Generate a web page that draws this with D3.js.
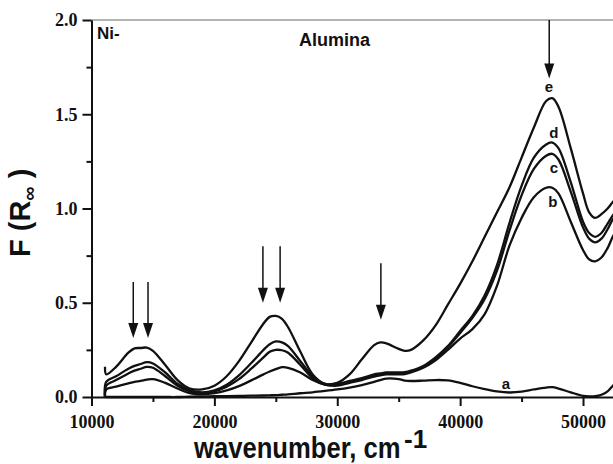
<!DOCTYPE html>
<html>
<head>
<meta charset="utf-8">
<script src="https://cdn.jsdelivr.net/npm/d3@7"></script>
<style>
body { margin: 0; background: #fff; }
svg { display: block; }
.tick text { font-family: "Liberation Serif", "Times New Roman", serif; font-weight: bold; font-size: 18px; fill: #111; }
.axis path, .axis line { stroke: #111; stroke-width: 2px; }
.lbl { font-family: "Liberation Sans", Arial, sans-serif; font-weight: bold; fill: #111; }
</style>
</head>
<body>
<div id="chart"></div>
<script>
const svgWidth = 613, svgHeight = 464;

// wavenumber grid (cm-1) shared by all spectra
const waveNumbers = [11100, 11200, 12000, 13000, 13500, 14000, 14500, 15000, 16000, 17000,
  18000, 19000, 20000, 21000, 22000, 23000, 24000, 24500, 25000, 25500,
  26000, 27000, 28000, 29000, 30000, 31000, 32000, 33000, 33500, 34000,
  35000, 35500, 36000, 37000, 38000, 39000, 40000, 41000, 42000, 43000,
  44000, 45000, 46000, 47000, 47500, 48000, 49000, 50000, 50500, 51000,
  51500, 52000, 52500, 53000];

const seriesA = [0, 0, 0, 0, 0, 0, 0, 0, 0, 0,
  0.002, 0.003, 0.004, 0.005, 0.006, 0.007, 0.008, 0.009, 0.01, 0.012,
  0.014, 0.02, 0.025, 0.032, 0.04, 0.05, 0.063, 0.08, 0.09, 0.098,
  0.095, 0.087, 0.085, 0.087, 0.09, 0.088, 0.075, 0.057, 0.042, 0.03,
  0.024, 0.028, 0.04, 0.05, 0.052, 0.045, 0.025, 0.006, 0.003, 0.004,
  0.012, 0.03, 0.065, 0.1];

const seriesB = [0, 0.04, 0.055, 0.072, 0.08, 0.085, 0.092, 0.095, 0.075, 0.045,
  0.02, 0.015, 0.02, 0.035, 0.058, 0.088, 0.12, 0.135, 0.148, 0.158,
  0.155, 0.13, 0.09, 0.065, 0.06, 0.075, 0.09, 0.108, 0.115, 0.12,
  0.12, 0.122, 0.13, 0.155, 0.195, 0.25, 0.31, 0.36, 0.44, 0.59,
  0.80, 0.95, 1.06, 1.11, 1.11, 1.08, 0.93, 0.78, 0.73, 0.72,
  0.74, 0.79, 0.86, 0.9];

const seriesC = [0, 0.06, 0.09, 0.125, 0.14, 0.15, 0.16, 0.155, 0.11, 0.06,
  0.03, 0.02, 0.03, 0.055, 0.095, 0.15, 0.21, 0.24, 0.25, 0.248,
  0.235, 0.17, 0.10, 0.065, 0.065, 0.08, 0.095, 0.115, 0.12, 0.125,
  0.125, 0.127, 0.135, 0.16, 0.205, 0.265, 0.34, 0.42, 0.52, 0.67,
  0.88, 1.07, 1.21, 1.28, 1.29, 1.26, 1.09, 0.90, 0.84, 0.82,
  0.84, 0.89, 0.95, 0.98];

const seriesD = [0, 0.08, 0.11, 0.15, 0.165, 0.175, 0.185, 0.178, 0.13, 0.07,
  0.035, 0.025, 0.035, 0.065, 0.115, 0.18, 0.25, 0.28, 0.295, 0.29,
  0.27, 0.19, 0.11, 0.07, 0.07, 0.085, 0.10, 0.12, 0.125, 0.13,
  0.13, 0.132, 0.14, 0.165, 0.21, 0.27, 0.35, 0.43, 0.54, 0.70,
  0.92, 1.12, 1.27, 1.34, 1.35, 1.32, 1.14, 0.93, 0.87, 0.85,
  0.87, 0.92, 0.97, 1.0];

const seriesE = [0.16, 0.12, 0.16, 0.235, 0.258, 0.26, 0.262, 0.245, 0.17, 0.09,
  0.045, 0.04, 0.06, 0.11, 0.19, 0.29, 0.39, 0.425, 0.43, 0.415,
  0.37, 0.24, 0.12, 0.07, 0.075, 0.12, 0.20, 0.275, 0.29, 0.285,
  0.255, 0.245, 0.25, 0.30, 0.38, 0.49, 0.60, 0.72, 0.85, 0.98,
  1.11, 1.27, 1.43, 1.57, 1.585, 1.54, 1.32, 1.08, 0.98, 0.95,
  0.97, 1.0, 1.04, 1.07];

const allSeries = [seriesA, seriesB, seriesC, seriesD, seriesE];

const xMajorTicks = [10000, 20000, 30000, 40000, 50000];
const xMinorTicks = [15000, 25000, 35000, 45000];
const yMajorTicks = [0, 0.5, 1.0, 1.5, 2.0];
const yMinorTicks = [0.25, 0.75, 1.25, 1.75];

// arrows: [wavenumber, top F, tip F]
const arrows = [
  [13400, 0.61, 0.313],
  [14600, 0.61, 0.313],
  [23950, 0.80, 0.50],
  [25350, 0.80, 0.50],
  [33550, 0.71, 0.41],
  [47250, 2.0, 1.69]
];

// curve letters: [text, wavenumber, F]
const curveLabels = [
  ["a", 43730, 0.069],
  ["b", 47550, 1.035],
  ["c", 47630, 1.215],
  ["d", 47630, 1.40],
  ["e", 47220, 1.645]
];

const svg = d3.select("#chart")
  .append("svg")
  .attr("width", svgWidth)
  .attr("height", svgHeight);

const x = d3.scaleLinear().domain([10000, 52440]).range([91.5, 613]);
const y = d3.scaleLinear().domain([0, 2]).range([397, 20]);

// top frame line
svg.append("line")
  .attr("x1", x(10000)).attr("x2", svgWidth)
  .attr("y1", y(2)).attr("y2", y(2))
  .attr("stroke", "#9a9a9a")
  .attr("stroke-width", 1.5);

// x axis
svg.append("g")
  .attr("class", "axis")
  .attr("transform", `translate(0, ${y(0)})`)
  .call(d3.axisBottom(x).tickValues(xMajorTicks).tickSize(9).tickSizeOuter(0)
    .tickPadding(9).tickFormat(d3.format("d")));

svg.append("g")
  .attr("class", "axis")
  .attr("transform", `translate(0, ${y(0)})`)
  .call(d3.axisBottom(x).tickValues(xMinorTicks).tickSize(5).tickSizeOuter(0).tickFormat(""))
  .select(".domain").remove();

// y axis
svg.append("g")
  .attr("class", "axis")
  .attr("transform", `translate(${x(10000)}, 0)`)
  .call(d3.axisLeft(y).tickValues(yMajorTicks).tickSize(9).tickSizeOuter(0)
    .tickPadding(5).tickFormat(d3.format(".1f")));

svg.append("g")
  .attr("class", "axis")
  .attr("transform", `translate(${x(10000)}, 0)`)
  .call(d3.axisLeft(y).tickValues(yMinorTicks).tickSize(5).tickSizeOuter(0).tickFormat(""))
  .select(".domain").remove();

// spectra
const line = d3.line()
  .x((d, i) => x(waveNumbers[i]))
  .y(d => y(d))
  .curve(d3.curveCatmullRom.alpha(0.5));

svg.append("g")
  .selectAll("path")
  .data(allSeries)
  .enter()
  .append("path")
  .attr("d", line)
  .attr("fill", "none")
  .attr("stroke", "#111")
  .attr("stroke-width", 2.3)
  .attr("stroke-linejoin", "round");

// arrows
const arrowG = svg.append("g");
arrows.forEach(function(a) {
  const ax = x(a[0]), top = y(a[1]), tip = y(a[2]);
  arrowG.append("line")
    .attr("x1", ax).attr("x2", ax)
    .attr("y1", top).attr("y2", tip - 10)
    .attr("stroke", "#111")
    .attr("stroke-width", 1.5);
  arrowG.append("path")
    .attr("d", `M${ax - 5},${tip - 15} L${ax + 5},${tip - 15} L${ax},${tip} Z`)
    .attr("fill", "#111");
});

// curve letters
svg.append("g")
  .selectAll("text")
  .data(curveLabels)
  .enter()
  .append("text")
  .attr("class", "lbl")
  .attr("x", d => x(d[1]))
  .attr("y", d => y(d[2]))
  .attr("dy", "0.35em")
  .attr("text-anchor", "middle")
  .style("font-size", "15px")
  .text(d => d[0]);

// titles inside plot
svg.append("text")
  .attr("class", "lbl")
  .attr("x", 97).attr("y", 39)
  .style("font-size", "17px")
  .text("Ni-");

svg.append("text")
  .attr("class", "lbl")
  .attr("x", 299).attr("y", 46)
  .style("font-size", "18px")
  .text("Alumina");

// x axis title (narrow, tall lettering as in the source figure)
svg.append("text")
  .attr("class", "lbl")
  .attr("transform", "translate(194, 458) scale(0.855, 1)")
  .style("font-size", "30px")
  .text("wavenumber, cm");

svg.append("text")
  .attr("class", "lbl")
  .attr("x", 404).attr("y", 448)
  .style("font-size", "26px")
  .text("-1");

// y axis title
const yTitle = svg.append("text")
  .attr("class", "lbl")
  .attr("transform", "translate(30, 257) rotate(-90)")
  .style("font-size", "29px");
yTitle.append("tspan").text("F (R");
yTitle.append("tspan").attr("dy", 6).style("font-size", "20px").text("\u221E");
yTitle.append("tspan").attr("dy", -6).text(" )");
</script>
</body>
</html>
